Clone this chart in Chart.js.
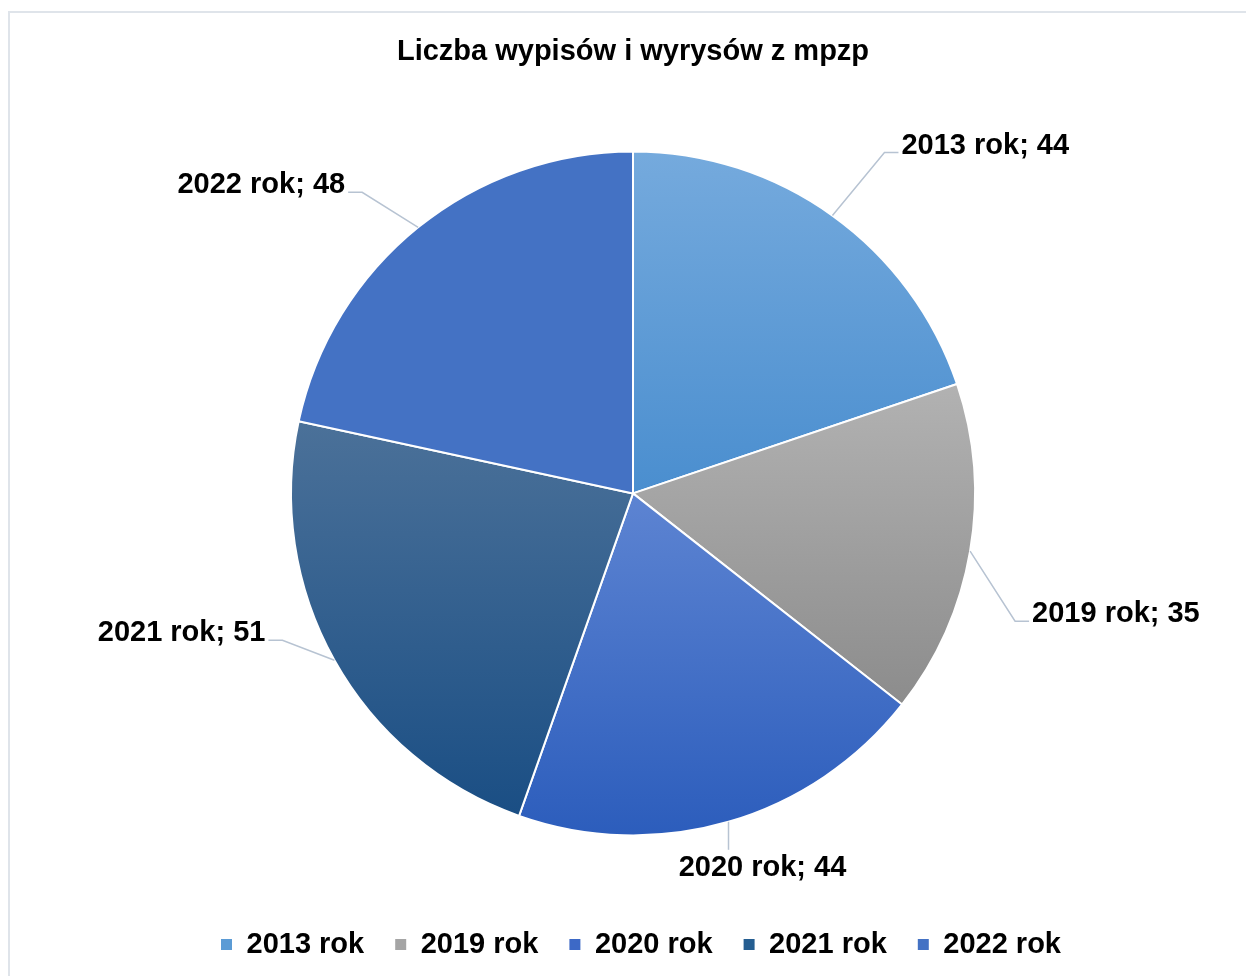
<!DOCTYPE html>
<html>
<head>
<meta charset="utf-8">
<script src="https://cdn.jsdelivr.net/npm/chart.js@4.4.1/dist/chart.umd.min.js"></script>
<style>
  html, body { margin: 0; padding: 0; background: #fff; overflow: hidden; }
  #frame { position: absolute; left: 8px; top: 11px; width: 1300px; height: 1100px;
           border-left: 2px solid #dfe4ea; border-top: 2px solid #dfe4ea; }
  #chart { position: absolute; left: 0; top: 0; }
</style>
</head>
<body>
<div id="frame"></div>
<canvas id="chart" width="1246" height="976"></canvas>
<script>
const labels = ['2013 rok', '2019 rok', '2020 rok', '2021 rok', '2022 rok'];
const values = [44, 35, 44, 51, 48];
const chartTitle = 'Liczba wypisów i wyrysów z mpzp';

// slice fills run top -> bottom over each slice
const topColors = ['#75aadd', '#b2b2b2', '#5d84d2', '#4b7199', '#4472c4'];
const bottomColors = ['#4a8ecf', '#8c8c8c', '#2c5dbc', '#1a4e84', '#4472c4'];
const legendColors = ['#5b9bd5', '#a5a5a5', '#3d69c6', '#255e91', '#4472c4'];

// elbow of each leader line, relative to the slice's outer mid point
const leaderOffsets = [[52, -63], [45, 70], [0, 28], [-52, -20], [-56, -35]];

const FONT = '"Liberation Sans", Arial, sans-serif';

function arcProps(arc) {
  return arc.getProps(['x', 'y', 'startAngle', 'endAngle', 'outerRadius']);
}

function sliceBounds(arc) {
  const { x, y, startAngle, endAngle, outerRadius } = arcProps(arc);
  let minY = y, maxY = y;
  const check = a => {
    const py = y + Math.sin(a) * outerRadius;
    minY = Math.min(minY, py);
    maxY = Math.max(maxY, py);
  };
  check(startAngle);
  check(endAngle);
  for (let k = -4; k <= 8; k++) {
    const a = k * Math.PI / 2;
    if (a > startAngle && a < endAngle) check(a);
  }
  return { minY, maxY };
}

const sliceGradients = {
  id: 'sliceGradients',
  beforeDatasetsDraw(chart) {
    const ctx = chart.ctx;
    chart.getDatasetMeta(0).data.forEach((arc, i) => {
      const b = sliceBounds(arc);
      const g = ctx.createLinearGradient(0, b.minY, 0, b.maxY);
      g.addColorStop(0, topColors[i]);
      g.addColorStop(1, bottomColors[i]);
      arc.options.backgroundColor = g;
    });
  }
};

const sliceLabels = {
  id: 'sliceLabels',
  afterDatasetsDraw(chart) {
    const ctx = chart.ctx;
    ctx.save();
    ctx.font = 'bold 29px ' + FONT;
    ctx.fillStyle = '#000';
    ctx.strokeStyle = '#b7c3d2';
    ctx.lineWidth = 1.5;
    ctx.textBaseline = 'middle';
    chart.getDatasetMeta(0).data.forEach((arc, i) => {
      const { x, y, startAngle, endAngle, outerRadius } = arcProps(arc);
      const mid = (startAngle + endAngle) / 2;
      const sx = x + Math.cos(mid) * outerRadius;
      const sy = y + Math.sin(mid) * outerRadius;
      const [dx, dy] = leaderOffsets[i];
      const ex = sx + dx, ey = sy + dy;
      const text = labels[i] + '; ' + values[i];
      ctx.beginPath();
      ctx.moveTo(sx, sy);
      ctx.lineTo(ex, ey);
      if (dx === 0) {
        ctx.stroke();
        ctx.textAlign = 'center';
        ctx.fillText(text, ex + 34, ey + 18);
      } else {
        const dir = dx > 0 ? 1 : -1;
        ctx.lineTo(ex + dir * 14, ey);
        ctx.stroke();
        ctx.textAlign = dir > 0 ? 'left' : 'right';
        ctx.fillText(text, ex + dir * 17, ey - 7);
      }
    });
    ctx.restore();
  }
};

// legend row sits a little right of the pie centre
const legendNudge = {
  id: 'legendNudge',
  afterLayout(chart) {
    chart.legend.left += 8;
    chart.legend.right += 8;
  }
};

new Chart(document.getElementById('chart'), {
  type: 'pie',
  data: {
    labels: labels,
    datasets: [{
      data: values,
      backgroundColor: legendColors,
      borderColor: '#ffffff',
      borderWidth: 2,
      radius: 342
    }]
  },
  options: {
    responsive: false,
    animation: false,
    devicePixelRatio: 1,
    layout: { padding: { left: 20, bottom: 7 } },
    plugins: {
      title: {
        display: true,
        text: chartTitle,
        color: '#000',
        font: { family: FONT, size: 29, weight: 'bold' },
        padding: { top: 35, bottom: 18 }
      },
      legend: {
        position: 'bottom',
        labels: {
          color: '#000',
          font: { family: FONT, size: 29, weight: 'bold' },
          boxWidth: 11,
          boxHeight: 11,
          padding: 31,
          generateLabels: () => labels.map((t, i) => ({
            text: t,
            fillStyle: legendColors[i],
            strokeStyle: legendColors[i],
            lineWidth: 0,
            hidden: false,
            index: i
          }))
        }
      },
      tooltip: { enabled: false }
    }
  },
  plugins: [sliceGradients, sliceLabels, legendNudge]
});
</script>
</body>
</html>
